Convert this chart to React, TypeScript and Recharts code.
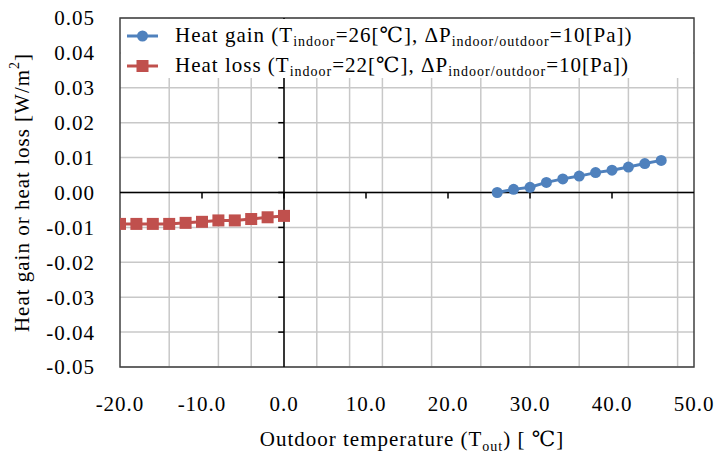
import React from "react";
import {
  LineChart,
  Line,
  XAxis,
  YAxis,
  CartesianGrid,
  ReferenceLine,
  ReferenceArea,
} from "recharts";

// heat gain, indoor 26 degC
const GAIN_T = [26, 28, 30, 32, 34, 36, 38, 40, 42, 44, 46];
const GAIN_Q = [0.0, 0.0009, 0.0015, 0.0029, 0.0039, 0.0047, 0.0057, 0.0064, 0.0073, 0.0083, 0.0092];

// heat loss, indoor 22 degC
const LOSS_T = [-20, -18, -16, -14, -12, -10, -8, -6, -4, -2, 0];
const LOSS_Q = [-0.009, -0.009, -0.009, -0.009, -0.0087, -0.0084, -0.008, -0.008, -0.0076, -0.0071, -0.0067];

const X_TICKS = [-20, -10, 0, 10, 20, 30, 40, 50];
const X_GRID = [-18, -16, -14, -12, -10, -8, -6, -4, -2, 0, 2, 4, 6, 8, 10, 12, 14, 16, 18, 20, 22, 24, 26, 28, 30, 32, 34, 36, 38, 40, 42, 44, 46, 48];
const Y_TICKS = [-0.05, -0.04, -0.03, -0.02, -0.01, 0, 0.01, 0.02, 0.03, 0.04, 0.05];

const gainData = GAIN_T.map((t, i) => ({ t, q: GAIN_Q[i] }));
const lossData = LOSS_T.map((t, i) => ({ t, q: LOSS_Q[i] }));

const BLUE = "#4F81BD";
const RED = "#C0504D";
const FONT = "Liberation Serif, Tinos, Times New Roman, DejaVu Serif, serif";
const FS = 21;
const LS = 1; // the source image is a bit stretched sideways

const W = 716;
const H = 457;

function SquareDot(props: any) {
  const { cx, cy } = props;
  if (cx == null || cy == null) return null;
  return <rect x={cx - 6} y={cy - 6} width={12} height={12} fill={RED} />;
}

function YTitle({ viewBox }: any) {
  const cx = 22;
  const cy = viewBox.y + viewBox.height / 2;
  return (
    <text
      x={cx}
      y={cy}
      transform={`rotate(-90 ${cx} ${cy})`}
      textAnchor="middle"
      dominantBaseline="central"
      style={{ fontFamily: FONT, letterSpacing: LS }}
      fontSize={FS}
      fill="#000"
    >
      Heat gain or heat loss [W/m<tspan dy={-8} fontSize={14}>2</tspan>
      <tspan dy={8}>]</tspan>
    </text>
  );
}

function XTitle({ viewBox }: any) {
  const cx = viewBox.x + viewBox.width / 2 + 5;
  return (
    <text
      x={cx}
      y={446}
      textAnchor="middle"
      style={{ fontFamily: FONT, letterSpacing: LS }}
      fontSize={FS}
      fill="#000"
    >
      Outdoor temperature (T<tspan dy={5} fontSize={14}>out</tspan>
      <tspan dy={-5}>) [ ℃]</tspan>
    </text>
  );
}

function LegendRow({ color, square, label }: { color: string; square?: boolean; label: React.ReactNode }) {
  return (
    <div style={{ display: "flex", alignItems: "center", height: 30 }}>
      <svg width={36} height={16} style={{ marginLeft: 6, marginRight: 12 }}>
        <line x1={0} x2={31} y1={8} y2={8} stroke={color} strokeWidth={3} />
        {square ? (
          <rect x={9.5} y={2} width={12} height={12} fill={color} />
        ) : (
          <circle cx={15.5} cy={8} r={5.5} fill={color} />
        )}
      </svg>
      <span
        style={{ fontFamily: FONT, fontSize: FS, letterSpacing: LS, color: "#000", whiteSpace: "nowrap" }}
      >
        {label}
      </span>
    </div>
  );
}

const sub = (s: string) => <sub style={{ fontSize: 14, verticalAlign: -4 }}>{s}</sub>;

const tickStyle = { fontSize: FS, fill: "#000", style: { fontFamily: FONT, letterSpacing: LS } };

export default function App() {
  return (
    <div style={{ position: "absolute", left: 0, top: 0, width: W, height: H, background: "#fff", fontFamily: FONT }}>
      <LineChart width={W} height={H} margin={{ top: 18, right: 22, bottom: 0, left: 0 }} style={{ fontFamily: FONT }}>
        <CartesianGrid
          stroke="#c8c8c8"
          strokeWidth={1.5}
          verticalValues={X_GRID}
          horizontalValues={Y_TICKS}
        />
        <XAxis
          type="number"
          dataKey="t"
          domain={[-20, 50]}
          ticks={X_TICKS}
          tickFormatter={(v: number) => v.toFixed(1)}
          axisLine={false}
          tickLine={false}
          tickSize={0}
          tickMargin={29}
          height={90}
          tick={tickStyle}
          allowDataOverflow
          label={<XTitle />}
        />
        <YAxis
          type="number"
          dataKey="q"
          domain={[-0.05, 0.05]}
          ticks={Y_TICKS}
          tickFormatter={(v: number) => v.toFixed(2)}
          axisLine={false}
          tickLine={false}
          tickSize={0}
          tickMargin={25}
          width={120}
          tick={tickStyle}
          allowDataOverflow
          label={<YTitle />}
        />
        <ReferenceLine y={0} stroke="#000" strokeWidth={1.5} />
        <ReferenceLine x={0} stroke="#000" strokeWidth={1.5} />
        {X_TICKS.slice(1, -1).map((t) => (
          <ReferenceLine
            key={"xt" + t}
            segment={[{ x: t, y: 0 }, { x: t, y: -0.0017 }]}
            stroke="#000"
            strokeWidth={1.5}
          />
        ))}
        {Y_TICKS.slice(1, -1).map((v) => (
          <ReferenceLine
            key={"yt" + v}
            segment={[{ x: -0.7, y: v }, { x: 0, y: v }]}
            stroke="#000"
            strokeWidth={1.5}
          />
        ))}
        <ReferenceArea
          x1={-20}
          x2={50}
          y1={-0.05}
          y2={0.05}
          fill="none"
          fillOpacity={0}
          stroke="#404040"
          strokeWidth={1.5}
        />
        <Line
          data={lossData}
          dataKey="q"
          stroke={RED}
          strokeWidth={3}
          dot={<SquareDot />}
          isAnimationActive={false}
        />
        <Line
          data={gainData}
          dataKey="q"
          stroke={BLUE}
          strokeWidth={3}
          dot={{ r: 5.5, fill: BLUE, stroke: BLUE, strokeWidth: 0 }}
          isAnimationActive={false}
        />
      </LineChart>
      <div
        style={{
          position: "absolute",
          left: 121,
          top: 19,
          width: 572,
          height: 59,
          background: "#fff",
          paddingTop: 2,
          boxSizing: "border-box",
        }}
      >
        <LegendRow
          color={BLUE}
          label={
            <>
              Heat gain (T{sub("indoor")}=26[℃], ΔP{sub("indoor/outdoor")}=10[Pa])
            </>
          }
        />
        <LegendRow
          color={RED}
          square
          label={
            <>
              Heat loss (T{sub("indoor")}=22[℃], ΔP{sub("indoor/outdoor")}=10[Pa])
            </>
          }
        />
      </div>
    </div>
  );
}
